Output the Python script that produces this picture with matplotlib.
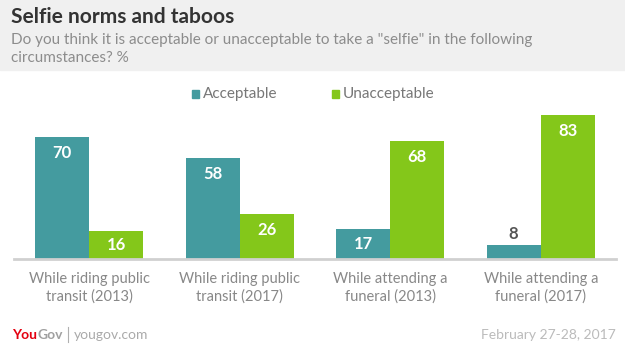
import matplotlib.pyplot as plt
import numpy as np

# Данные
categories = ["While riding public\ntransit (2013)", "While riding public\ntransit (2017)",
              "While attending a\nfuneral (2013)", "While attending a\nfuneral (2017)"]
acceptable = [70, 58, 17, 8]
unacceptable = [16, 26, 68, 83]
series_names = ["Acceptable", "Unacceptable"]

TEAL = "#449b9f"
GREEN = "#84c71a"
FONT = "Lato"

W, H = 625, 359
fig = plt.figure(figsize=(W / 100, H / 100), dpi=100)
fig.patch.set_facecolor("white")


def fx(px):
    return px / W


def fy(py):
    return 1 - py / H


# Шапка
fig.patches.append(plt.Rectangle((0, fy(70)), 1, 70 / H, transform=fig.transFigure,
                                 color="#f0f0f0", zorder=0))
fig.text(fx(11), fy(17), "Selfie norms and taboos", fontsize=15, fontweight="bold",
         color="#333333", family=FONT, va="center")
fig.text(fx(11), fy(40), 'Do you think it is acceptable or unacceptable to take a "selfie" in the following',
         fontsize=11, color="#8c8c8c", family=FONT, va="center")
fig.text(fx(11), fy(58), "circumstances? %", fontsize=11, color="#8c8c8c", family=FONT, va="center")

# Легенда
for sx, tx, col, name in ((192, 203, TEAL, series_names[0]), (332, 343, GREEN, series_names[1])):
    fig.patches.append(plt.Rectangle((fx(sx), fy(98)), 7 / W, 8 / H, transform=fig.transFigure,
                                     color=col))
    fig.text(fx(tx), fy(94), name, fontsize=11, color="#777777", family=FONT, va="center")

# Оси
ax = fig.add_axes([fx(14), fy(259), fx(616) - fx(14), (259 - 80) / H])
x = np.arange(len(categories))
w = 0.36
b1 = ax.bar(x - w / 2, acceptable, w, color=TEAL)
b2 = ax.bar(x + w / 2, unacceptable, w, color=GREEN)
ax.set_xlim(-0.5, 3.5)
ax.set_ylim(0, 179 / 1.74)

px_per_unit = 1.74
for bars, vals in ((b1, acceptable), (b2, unacceptable)):
    for bar, v in zip(bars, vals):
        cx = bar.get_x() + bar.get_width() / 2
        if v >= 20:
            ax.text(cx, v - 16 / px_per_unit, str(v), ha="center", va="center",
                    color="white", fontsize=12, fontweight="bold", family=FONT)
        elif v >= 12:
            ax.text(cx, v / 2, str(v), ha="center", va="center",
                    color="white", fontsize=12, fontweight="bold", family=FONT)
        else:
            ax.text(cx, v + 11 / px_per_unit, str(v), ha="center", va="center",
                    color="#555555", fontsize=12, fontweight="bold", family=FONT)

for s in ["top", "right", "left"]:
    ax.spines[s].set_visible(False)
ax.spines["bottom"].set_color("#d0d0d0")
ax.spines["bottom"].set_linewidth(2)
ax.set_yticks([])
ax.set_xticks(x)
ax.set_xticklabels(categories, fontsize=10.5, color="#888888", family=FONT, linespacing=1.3)
ax.tick_params(axis="x", length=0, pad=9)

# Подвал
you = fig.text(fx(12), fy(335), "You", fontsize=10, fontweight="bold", color="#e4000f",
               family=FONT, va="center")
r = fig.canvas.get_renderer()
bb = you.get_window_extent(renderer=r)
fig.text(bb.x1 / W, fy(335), "Gov", fontsize=10, fontweight="bold", color="#a0a0a0",
         family=FONT, va="center")
fig.lines.append(plt.Line2D([fx(68), fx(68)], [fy(327), fy(342)], transform=fig.transFigure,
                            color="#b0b0b0", lw=0.8))
fig.text(fx(74), fy(335), "yougov.com", fontsize=10, color="#aaaaaa", family=FONT, va="center")
fig.text(fx(616), fy(335), "February 27-28, 2017", fontsize=10, color="#bbbbbb",
         family=FONT, va="center", ha="right")

fig.savefig("out.png", dpi=100)
